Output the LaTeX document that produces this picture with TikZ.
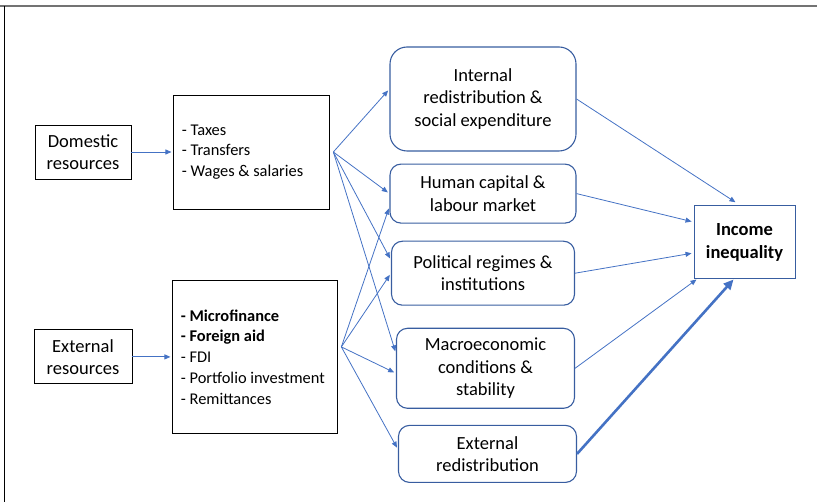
\documentclass[tikz,border=0pt]{standalone}
\usepackage{fontspec}
\setmainfont{Carlito}
\usepackage{xcolor}
\usetikzlibrary{positioning,arrows.meta}
\definecolor{colorarrow} {RGB}{ 68,114,196}
\definecolor{colorborder}{RGB}{ 56, 93,160}
\definecolor{colorframe} {RGB}{115,115,115}

\begin{document}
\begin{tikzpicture}[
    x=1pt, y=1pt,
    node distance = 42pt,
    >={Triangle[length=6pt,width=5pt]},
    font={\fontsize{18.5}{22.5}\selectfont},
    base/.style={draw=black,line width=0.9pt,inner sep=4pt,align=center,rectangle},
    baselist/.style={draw=black,line width=0.9pt,inner sep=8pt,align=flush left,rectangle,
        font={\fontsize{16.4}{20.7}\selectfont}},
    factor/.style={draw=colorborder,line width=1.1pt,rounded corners=11pt,align=center,rectangle},
    link/.style={->,draw=colorarrow,line width=0.8pt,shorten >=2pt},
]
    \useasboundingbox (0,0) rectangle (817,-502);
    \draw[colorframe,line width=2pt] (0,-6) -- (817,-6);
    \draw[black,line width=1pt] (4.5,-6) -- (4.5,-502);

    % resources
    \node[base,minimum width=96pt,minimum height=54pt] at (83,-152) (domestic) {Domestic\\resources};
    \node[baselist,text width=140pt,minimum height=114pt,right=42pt of domestic] (taxes)
        {- Taxes\\- Transfers\\- Wages \& salaries};

    \node[base,minimum width=98pt,minimum height=54pt,below=150pt of domestic] (external) {External\\resources};
    \node[baselist,text width=149pt,minimum height=153pt,right=40pt of external] (finance)
        {\textbf{- Microfinance}\\\textbf{- Foreign aid}\\- FDI\\- Portfolio investment\\- Remittances};

    % channels
    \node[factor,rounded corners=17pt,minimum width=186pt,minimum height=104pt] at (483,-99) (internal)
        {Internal\\redistribution \&\\social expenditure};
    \node[factor,minimum width=186pt,minimum height=59pt,below=12pt of internal] (human)
        {Human capital \&\\labour market};
    \node[factor,minimum width=183pt,minimum height=64pt,below=17pt of human] (political)
        {Political regimes \&\\institutions};
    \node[factor,minimum width=178pt,minimum height=80pt,below=22pt of political,xshift=2.5pt] (macro)
        {Macroeconomic\\conditions \&\\stability};
    \node[factor,minimum width=178pt,minimum height=57pt,below=16pt of macro,xshift=2pt] (extred)
        {External\\redistribution};

    % outcome
    \node[base,draw=colorborder,line width=1pt,minimum width=101pt,minimum height=73pt,font={\fontsize{18.5}{22.5}\selectfont\bfseries}]
        at (744.5,-242.5) (income) {Income\\inequality};

    \coordinate (taxout) at ([xshift=3pt]taxes.east);
    \coordinate (finout) at ([xshift=3pt,yshift=10pt]finance.east);

    \draw[link](domestic) -- (taxes);
    \draw[link](external) -- (finance);

    \draw[link](taxout) -- ([yshift=10pt]internal.west);
    \draw[link](taxout) -- (human.west);
    \draw[link](taxout) -- ([yshift=13pt]political.west);
    \draw[link](taxout) -- ([yshift=15pt]macro.west);

    \draw[link](finout) -- ([yshift=-13pt]human.west);
    \draw[link](finout) -- (political.west);
    \draw[link](finout) -- ([yshift=-5pt]macro.west);
    \draw[link](finout) -- ([yshift=4.5pt]extred.west);

    \draw[link,shorten >=6pt](internal.east) -- ([xshift=-4pt]income.north);
    \draw[link](human.east) -- ([yshift=20.5pt]income.west);
    \draw[link](political.east) -- ([yshift=-10.5pt]income.west);
    \draw[link,shorten >=0pt](macro.east) -- ([xshift=3pt]income.south west);
    \draw[->,colorarrow,line width=2.6pt,>={Triangle[length=10pt,width=9pt]}](extred.east) -- ([xshift=-11pt]income.south);

\end{tikzpicture}
\end{document}
